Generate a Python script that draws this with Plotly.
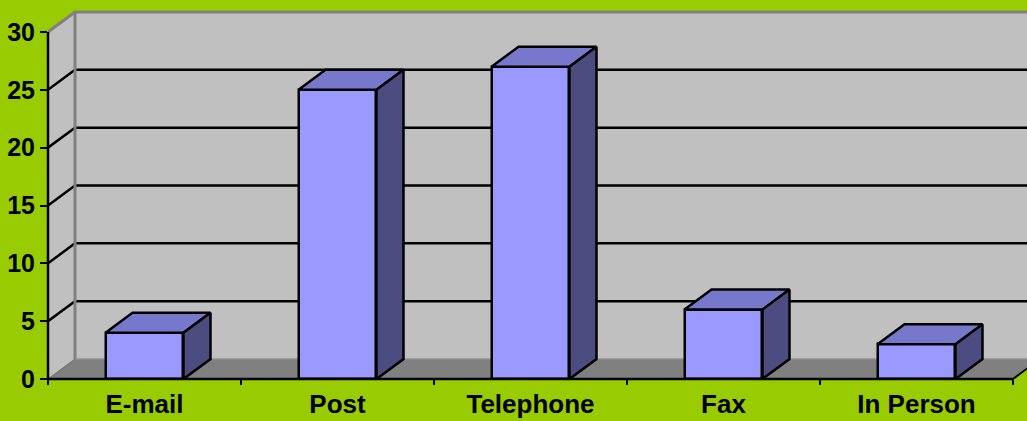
import plotly.graph_objects as go

# ---- data ----
categories = ["E-mail", "Post", "Telephone", "Fax", "In Person"]
values = [4, 25, 27, 6, 3]
y_ticks = [0, 5, 10, 15, 20, 25, 30]

# ---- style / geometry constants ----
W, H = 1027, 421
ML, MB = 48, 42
PX_X = 193.0          # pixels per category
PX_Y = 11.567         # pixels per value unit
plot_w = W - ML
plot_h = H - MB
xmin = -0.5
xmax = xmin + plot_w / PX_X
ymax = plot_h / PX_Y
DX = 27 / PX_X        # depth offset (x) in data units
DY = 20 / PX_Y        # depth offset (y) in data units
BW = 0.404            # bar width
n = len(categories)
xr = n - 0.5          # right end of category axis
vmax = max(y_ticks)

GREEN = "#99CC00"
WALL = "#C0C0C0"
FLOOR = "#808080"
EDGE = "#808080"
FRONT = "#9999FF"
TOP = "#7777CC"
SIDE = "#4C4C80"

fig = go.Figure()

# front faces of bars
fig.add_trace(go.Bar(
    x=list(range(n)), y=values, width=BW,
    marker=dict(color=FRONT, line=dict(color="black", width=2.5)),
    hoverinfo="skip", showlegend=False))

# top and side faces
for i, v in enumerate(values):
    l, r = i - BW / 2, i + BW / 2
    fig.add_trace(go.Scatter(
        x=[l, r, r + DX, l + DX, l], y=[v, v, v + DY, v + DY, v],
        mode="lines", fill="toself", fillcolor=TOP,
        line=dict(color="black", width=2.5), hoverinfo="skip", showlegend=False))
    fig.add_trace(go.Scatter(
        x=[r, r + DX, r + DX, r, r], y=[0, DY, v + DY, v, 0],
        mode="lines", fill="toself", fillcolor=SIDE,
        line=dict(color="black", width=2.5), hoverinfo="skip", showlegend=False))

shapes = []
# side wall
shapes.append(dict(type="path", layer="below", xref="x", yref="y",
                   path=f"M {xmin},0 L {xmin},{vmax} L {xmin+DX},{vmax+DY} L {xmin+DX},{DY} Z",
                   fillcolor=WALL, line=dict(width=0)))
# back wall
shapes.append(dict(type="rect", layer="below", xref="x", yref="y",
                   x0=xmin + DX, x1=xr + DX + 1, y0=DY, y1=vmax + DY,
                   fillcolor=WALL, line=dict(width=0)))
# floor
shapes.append(dict(type="path", layer="below", xref="x", yref="y",
                   path=f"M {xmin},0 L {xr},0 L {xr+DX},{DY} L {xmin+DX},{DY} Z",
                   fillcolor=FLOOR, line=dict(color="#6E6E6E", width=1)))
# gridlines
for t in y_ticks[1:-1]:
    shapes.append(dict(type="path", layer="below", xref="x", yref="y",
                       path=f"M {xmin},{t} L {xmin+DX},{t+DY} L {xr+DX+1},{t+DY}",
                       line=dict(color="black", width=2.5)))
# wall edges (gray)
shapes.append(dict(type="path", layer="below", xref="x", yref="y",
                   path=f"M {xmin},{vmax} L {xmin+DX},{vmax+DY} L {xr+DX+1},{vmax+DY}",
                   line=dict(color=EDGE, width=3)))
shapes.append(dict(type="line", layer="below", xref="x", yref="y",
                   x0=xmin + DX, x1=xmin + DX, y0=DY, y1=vmax + DY,
                   line=dict(color=EDGE, width=3)))
shapes.append(dict(type="line", layer="below", xref="x", yref="y",
                   x0=xmin + DX, x1=xr + DX + 1, y0=DY, y1=DY,
                   line=dict(color="#A0A0A0", width=1)))
# floor right edge
shapes.append(dict(type="line", layer="above", xref="x", yref="y",
                   x0=xr, x1=xr + DX, y0=0, y1=DY,
                   line=dict(color="black", width=2)))
# axis lines (paper refs so they are not clipped)
xspan = xmax - xmin
shapes.append(dict(type="line", layer="above", xref="paper", yref="paper",
                   x0=0, x1=0, y0=0, y1=vmax / ymax,
                   line=dict(color="black", width=2.5)))
shapes.append(dict(type="line", layer="above", xref="paper", yref="paper",
                   x0=0, x1=(xr - xmin) / xspan, y0=0, y1=0,
                   line=dict(color="black", width=2.5)))
# category boundary tick marks
for k in range(n + 1):
    xp = k / xspan
    shapes.append(dict(type="line", layer="above", xref="paper", yref="paper",
                       x0=xp, x1=xp, y0=0, y1=-6 / plot_h,
                       line=dict(color="black", width=2)))

yfont = dict(family="Liberation Sans, Arial, sans-serif", size=25, color="black", weight="bold")
xfont = dict(family="Liberation Sans, Arial, sans-serif", size=26, color="black", weight="bold")

fig.update_layout(
    width=W, height=H,
    margin=dict(l=ML, r=0, t=0, b=MB, pad=0, autoexpand=False),
    paper_bgcolor=GREEN, plot_bgcolor=GREEN,
    shapes=shapes, showlegend=False, bargap=0,
    xaxis=dict(range=[xmin, xmax], tickmode="array", tickvals=list(range(n)),
               ticktext=categories, ticks="outside", ticklen=2,
               tickcolor="rgba(0,0,0,0)", showgrid=False, zeroline=False,
               showline=False, tickfont=xfont, fixedrange=True, automargin=False),
    yaxis=dict(range=[0, ymax], tickmode="array", tickvals=y_ticks,
               ticktext=[str(t) for t in y_ticks], ticks="outside", ticklen=7,
               tickwidth=2, tickcolor="black", showgrid=False, zeroline=False,
               showline=False, tickfont=yfont, fixedrange=True, automargin=False),
)

fig.write_html("out.html")
